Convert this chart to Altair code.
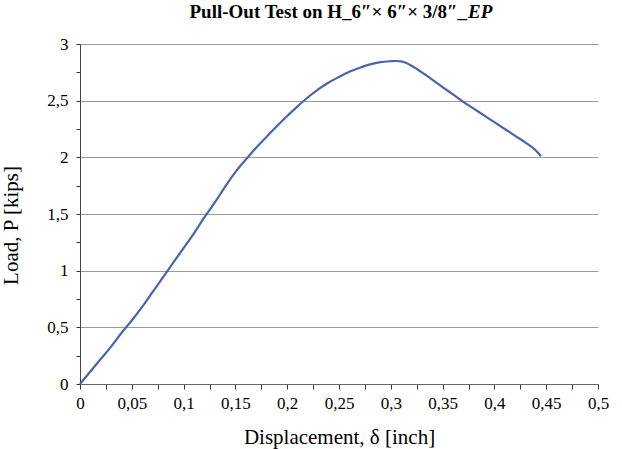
import altair as alt
import pandas as pd

disp = [0, 0.01, 0.02, 0.03, 0.04, 0.05, 0.06, 0.07, 0.08, 0.09, 0.10, 0.11, 0.12, 0.13,
        0.14, 0.15, 0.16, 0.17, 0.18, 0.19, 0.20, 0.21, 0.22, 0.23, 0.24, 0.25, 0.26, 0.27,
        0.28, 0.29, 0.30, 0.305, 0.31, 0.315, 0.32, 0.33, 0.34, 0.35, 0.36, 0.37, 0.38, 0.39, 0.40,
        0.41, 0.42, 0.43, 0.44, 0.445]
load = [0, 0.11, 0.22, 0.33, 0.45, 0.56, 0.68, 0.81, 0.94, 1.07, 1.20, 1.33, 1.47, 1.60,
        1.74, 1.87, 1.98, 2.085, 2.18, 2.275, 2.365, 2.45, 2.53, 2.60, 2.66, 2.71, 2.755, 2.79,
        2.82, 2.84, 2.848, 2.85, 2.846, 2.832, 2.808, 2.75, 2.685, 2.62, 2.555, 2.49, 2.43, 2.37, 2.31,
        2.25, 2.19, 2.13, 2.06, 2.01]

x_ticks = [round(i * 0.025, 3) for i in range(21)]
y_ticks = [round(i * 0.25, 2) for i in range(13)]

title_main = "Pull-Out Test on H_6″× 6″× 3/8″_"
title_italic = "EP"

df = pd.DataFrame({"d": disp, "p": load})
FONT = "Liberation Serif"

line = alt.Chart(df).mark_line(color="#4a64ab", strokeWidth=2.2, clip=False,
                               interpolate="monotone").encode(
    x=alt.X("d:Q", scale=alt.Scale(domain=[0, 0.5], nice=False),
            axis=alt.Axis(values=x_ticks, title="Displacement, δ [inch]",
                          labelExpr="round(datum.value*40) % 2 == 0 ? replace(toString(datum.value), '.', ',') : ''",
                          grid=False, tickSize=5, labelPadding=6, labelFlush=False,
                          titleY=59, titleBaseline="alphabetic",
                          domainColor="#666", tickColor="#333")),
    y=alt.Y("p:Q", scale=alt.Scale(domain=[0, 3], nice=False),
            axis=alt.Axis(values=y_ticks, title="Load, P [kips]",
                          labelExpr="round(datum.value*4) % 2 == 0 ? replace(toString(datum.value), '.', ',') : ''",
                          grid=True, labelFlush=False,
                          gridOpacity={"condition": {"test": "round(datum.value*4) % 2 == 0", "value": 1}, "value": 0},
                          gridColor="#9a9a9a", gridWidth=1.2,
                          tickSize=4, labelPadding=8,
                          titleX=-63, titleY=181, titleBaseline="alphabetic", titleAlign="center",
                          domainColor="#444", tickColor="#333")),
)

t1 = alt.Chart(pd.DataFrame({"t": [title_main]})).mark_text(
    font=FONT, fontSize=19, fontWeight="bold", align="right", baseline="alphabetic"
).encode(text="t:N", x=alt.value(387), y=alt.value(-26))

t2 = alt.Chart(pd.DataFrame({"t": [title_italic]})).mark_text(
    font=FONT, fontSize=19, fontWeight="bold", fontStyle="italic", align="left", baseline="alphabetic"
).encode(text="t:N", x=alt.value(388), y=alt.value(-26))

chart = alt.layer(line, t1, t2).properties(
    width=518, height=340,
    autosize=alt.AutoSizeParams(type="none"),
    padding={"left": 80, "top": 44, "right": 24, "bottom": 65},
).configure_axis(
    labelFont=FONT, titleFont=FONT, labelFontSize=17, titleFontSize=21,
    titleFontWeight="normal", labelColor="#000", titleColor="#000",
).configure_view(stroke=None)

chart.save("out.html", embed_options={"renderer": "svg", "actions": False})
